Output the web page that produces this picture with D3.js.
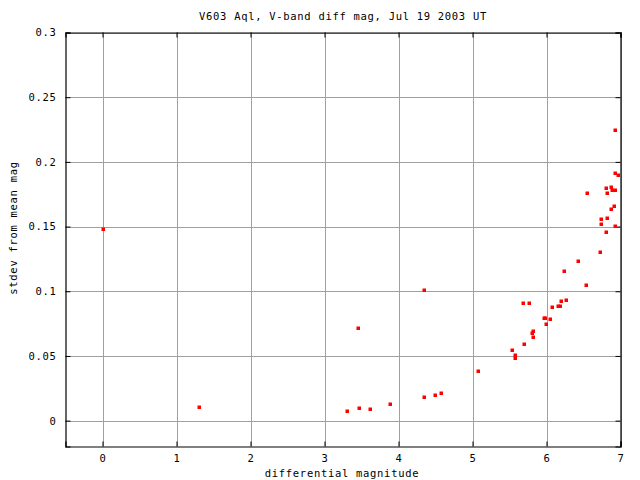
<!DOCTYPE html>
<html>
  <head>
    <style>
      body {
        margin: 0;
        background: #fff;
      }
      svg text {
        font-family: "DejaVu Sans Mono", monospace;
        font-size: 10.5px;
        letter-spacing: 0.7px;
        fill: #000;
      }
      .grid line {
        stroke: #a0a0a0;
        stroke-width: 1px;
      }
      .dot {
        fill: #ff0000;
      }
    </style>
  </head>
  <body>
    <script src="https://cdn.jsdelivr.net/npm/d3@7"></script>
    <script>
      const title = "V603 Aql, V-band diff mag, Jul 19 2003 UT",
          xLabel = "differential magnitude",
          yLabel = "stdev from mean mag";

      const xTicks = [0, 1, 2, 3, 4, 5, 6, 7],
          yTicks = [0, 0.05, 0.1, 0.15, 0.2, 0.25, 0.3];

      // differential magnitude of each star
      const diffMag = [
        0.00, 1.30, 3.31, 3.45, 3.46, 3.61, 3.88, 4.34, 4.34, 4.50, 4.57,
        5.08, 5.54, 5.57, 5.58, 5.68, 5.69, 5.76, 5.80, 5.82, 5.82, 5.96,
        5.98, 5.99, 6.05, 6.07, 6.15, 6.18, 6.19, 6.24, 6.27, 6.42, 6.53,
        6.55, 6.72, 6.73, 6.74, 6.80, 6.81, 6.82, 6.82, 6.87, 6.87, 6.88,
        6.91, 6.92, 6.92, 6.93, 6.93, 6.97
      ];
      // standard deviation from mean magnitude
      const stdev = [
        0.148, 0.0108, 0.0077, 0.0719, 0.0100, 0.0093, 0.0131, 0.1012, 0.0185, 0.0201, 0.0216,
        0.0386, 0.0549, 0.0487, 0.0510, 0.0912, 0.0595, 0.0912, 0.0680, 0.0696, 0.0649, 0.0796,
        0.0796, 0.0750, 0.0788, 0.0881, 0.0889, 0.0889, 0.0927, 0.1159, 0.0935, 0.1236, 0.1051,
        0.1762, 0.1306, 0.1522, 0.1561, 0.1461, 0.1801, 0.1762, 0.1569, 0.1805, 0.1638, 0.1785,
        0.1662, 0.1917, 0.1507, 0.2249, 0.1785, 0.1901
      ];

      const width = 640, height = 480,
          margin = {left: 65.5, right: 19.5, top: 32.5, bottom: 33.5};

      const svg = d3.select("body").append("svg")
          .attr("width", width)
          .attr("height", height);

      const x = d3.scaleLinear()
          .domain([-0.5, 7])
          .range([margin.left, width - margin.right]);

      const y = d3.scaleLinear()
          .domain([-0.02, 0.3])
          .range([height - margin.bottom, margin.top]);

      const x0 = x.range()[0], x1 = x.range()[1],
          y0 = y.range()[0], y1 = y.range()[1];

      // grid
      const grid = svg.append("g").attr("class", "grid");
      grid.selectAll(".gx")
          .data(xTicks)
        .enter().append("line")
          .attr("x1", d => Math.round(x(d)) + 0.5)
          .attr("x2", d => Math.round(x(d)) + 0.5)
          .attr("y1", y1)
          .attr("y2", y0);
      grid.selectAll(".gy")
          .data(yTicks)
        .enter().append("line")
          .attr("y1", d => Math.round(y(d)) + 0.5)
          .attr("y2", d => Math.round(y(d)) + 0.5)
          .attr("x1", x0)
          .attr("x2", x1);

      // axes with inward ticks on all four sides
      const fmt = d3.format("");
      svg.append("g")
          .attr("transform", `translate(0,${y0})`)
          .call(d3.axisBottom(x).tickValues(xTicks).tickSize(-5).tickPadding(8).tickFormat(fmt));
      svg.append("g")
          .attr("transform", `translate(0,${y1})`)
          .call(d3.axisTop(x).tickValues(xTicks).tickSize(-5).tickFormat(""));
      svg.append("g")
          .attr("transform", `translate(${x0},0)`)
          .call(d3.axisLeft(y).tickValues(yTicks).tickSize(-5).tickPadding(9).tickFormat(fmt));
      svg.append("g")
          .attr("transform", `translate(${x1},0)`)
          .call(d3.axisRight(y).tickValues(yTicks).tickSize(-5).tickFormat(""));

      svg.selectAll(".domain, .tick line")
          .attr("stroke", "#000");
      svg.selectAll(".domain")
          .attr("stroke-width", 1.2);
      svg.selectAll(".tick text")
          .style("font-family", "DejaVu Sans Mono, monospace")
          .style("font-size", "10.5px");

      // points
      svg.selectAll(".dot")
          .data(diffMag.map((d, i) => [d, stdev[i]]))
        .enter().append("rect")
          .attr("class", "dot")
          .attr("x", d => Math.round(x(d[0])) - 1.5)
          .attr("y", d => Math.round(y(d[1])) - 1.5)
          .attr("width", 3.5)
          .attr("height", 3.5);

      // labels
      svg.append("text")
          .attr("x", 343)
          .attr("y", 20)
          .attr("text-anchor", "middle")
          .text(title);
      svg.append("text")
          .attr("x", 342)
          .attr("y", 477)
          .attr("text-anchor", "middle")
          .text(xLabel);
      svg.append("text")
          .attr("transform", "translate(17,228) rotate(-90)")
          .attr("text-anchor", "middle")
          .text(yLabel);
    </script>
  </body>
</html>
